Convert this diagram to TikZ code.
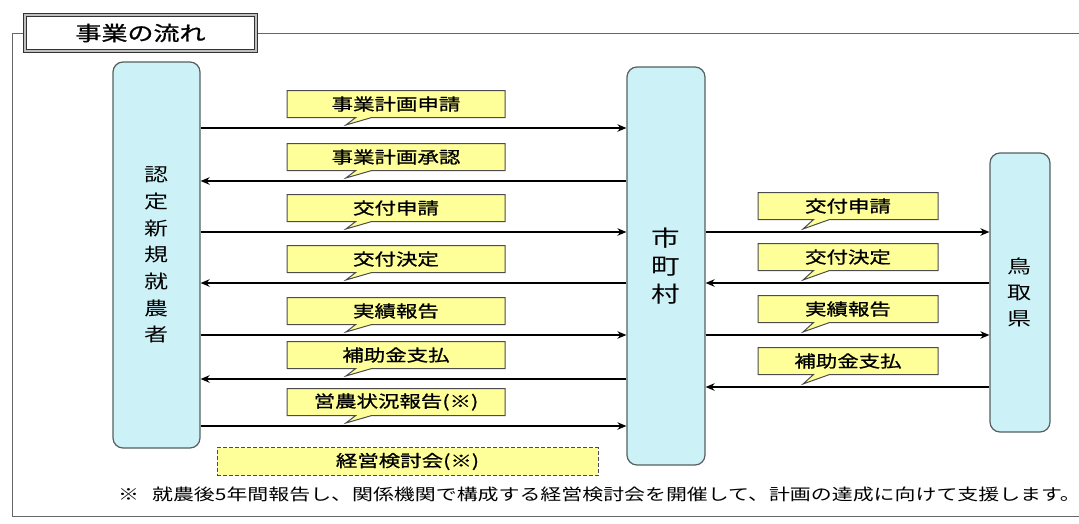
\documentclass[tikz,border=0pt]{standalone}
\usepackage{fontspec}
\setmainfont{Noto Sans CJK JP}[FakeStretch=1.3]
\newfontfamily\lblfont{Noto Sans CJK JP}[FakeStretch=1.3, FakeBold=1]
\usepackage{tikz}
\definecolor{cyanish}{RGB}{204, 241, 247}
\definecolor{yellowish}{RGB}{255, 255, 153}
\definecolor{edgegray}{RGB}{85, 95, 95}
\usetikzlibrary{arrows.meta,shapes.callouts}
\tikzset{
  actor/.style = {draw=edgegray, fill=cyanish, rounded corners=10pt,
    line width=1.2pt, align=center, inner sep=0pt},% kakari no hako
  msg/.style = {rectangle callout, draw=black!70, fill=yellowish,
    line width=1pt, minimum height=27pt, inner sep=0pt,
    callout pointer width=16pt, font=\lblfont\fontsize{16.5}{18}\selectfont},
  msg_l/.style = {msg, minimum width=218pt, callout relative pointer={(-17.9pt,-7.5pt)}},
  msg_r/.style = {msg, minimum width=180pt, callout relative pointer={(-18.6pt,-9.5pt)}},
  flow/.style = {line width=1.6pt},
}

\begin{document}
\begin{tikzpicture}[x=1pt, y=-1pt, >={Stealth[length=9pt,width=7.5pt]}]
\useasboundingbox (0,0) rectangle (1079,523);
% waku
\draw[black!60, line width=1pt] (12,33) rectangle (1095,516);
\node [draw=black!80, double=black!25, double distance=1.5pt, line width=1.2pt,
  fill=white, minimum width=231pt, minimum height=36pt,
  font=\lblfont\fontsize{20}{22}\selectfont] (title) at (140.5,33) {事業の流れ};
% kakari
\node [actor, minimum width=87pt, minimum height=386pt,
  font=\fontsize{18.5}{26.7}\selectfont] (farmer) at (156.5,255) {認\\定\\新\\規\\就\\農\\者};
\node [actor, minimum width=78pt, minimum height=398pt,
  font=\fontsize{22}{28}\selectfont] (city) at (666,266) {市\\町\\村};
\node [actor, minimum width=60pt, minimum height=279pt,
  font=\fontsize{18.5}{26}\selectfont] (pref) at (1020,292.5) {鳥\\取\\県};
% farmer - city
\foreach \y/\from/\to/\txt [count=\i] in {
    128/farmer.east/city.west/事業計画申請,
    181/city.west/farmer.east/事業計画承認,
    232/farmer.east/city.west/交付申請,
    283/city.west/farmer.east/交付決定,
    335/farmer.east/city.west/実績報告,
    379/city.west/farmer.east/補助金支払,
    426/farmer.east/city.west/営農状況報告(※)} {
  \node [msg_l] (fm\i) at (396,\y-24) {\txt};
  \draw [flow,->] (\from |- 0,\y) -- (\to |- 0,\y);
}
% city - pref
\foreach \y/\from/\to/\txt [count=\i] in {
    232/city.east/pref.west/交付申請,
    283/pref.west/city.east/交付決定,
    335/city.east/pref.west/実績報告,
    387/pref.west/city.east/補助金支払} {
  \node [msg_r] (cp\i) at (848,\y-26) {\txt};
  \draw [flow,->] (\from |- 0,\y) -- (\to |- 0,\y);
}
\node [draw=black!70, fill=yellowish, line width=1pt, dash pattern=on 4pt off 2pt,
  minimum width=381pt, minimum height=28pt, inner sep=0pt,
  font=\lblfont\fontsize{16.5}{18}\selectfont] (review) at (407.5,461.5) {経営検討会(※)};
% chuu
\node [anchor=west, inner sep=0pt, font=\fontsize{16.1}{18}\selectfont] (note) at (118,494)
  {※\hspace{13pt}就農後5年間報告し、関係機関で構成する経営検討会を開催して、計画の達成に向けて支援します。};
\end{tikzpicture}
\end{document}
